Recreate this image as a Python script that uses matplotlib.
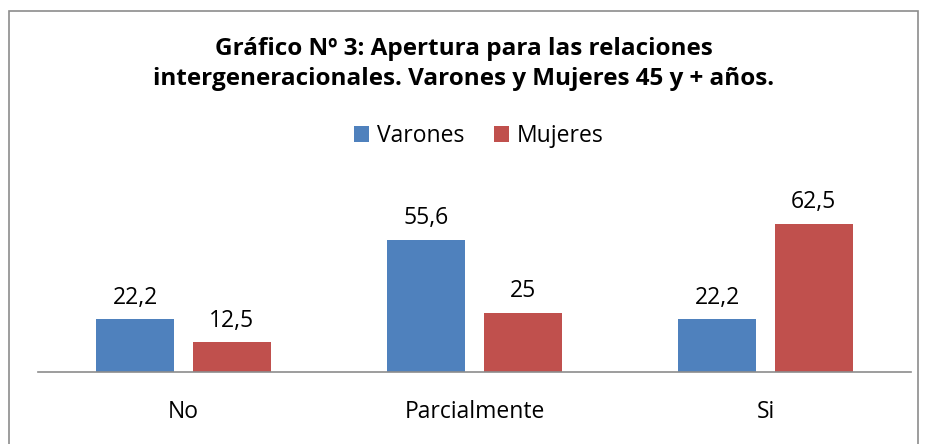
import numpy as np
import matplotlib.pyplot as plt
from matplotlib.patches import Rectangle

plt.rcParams['font.family'] = ['Open Sans', 'DejaVu Sans']

# Datos del gráfico
categorias = ['No', 'Parcialmente', 'Si']
varones = [22.2, 55.6, 22.2]
mujeres = [12.5, 25, 62.5]
etiquetas_varones = ['22,2', '55,6', '22,2']
etiquetas_mujeres = ['12,5', '25', '62,5']

azul = '#4F81BD'
rojo = '#C0504D'

fig = plt.figure(figsize=(9.28, 4.44), dpi=100)
# marco del gráfico
fig.patches.append(Rectangle((9 / 928, -0.05), 909 / 928, 1 - 11 / 444 + 0.05,
                             transform=fig.transFigure, fill=False,
                             edgecolor='#8C8C8C', linewidth=1.2))

ax = fig.add_axes([38 / 928, 72 / 444, 873 / 928, 166 / 444])
x = np.arange(len(categorias))
w = 0.268
off = 0.166
b1 = ax.bar(x - off, varones, w, color=azul, label='Varones')
b2 = ax.bar(x + off, mujeres, w, color=rojo, label='Mujeres')

for rect, txt in zip(b1, etiquetas_varones):
    ax.annotate(txt, (rect.get_x() + rect.get_width() / 2, rect.get_height()),
                xytext=(0, 7), textcoords='offset points', ha='center',
                va='bottom', fontsize=16.5)
for rect, txt in zip(b2, etiquetas_mujeres):
    ax.annotate(txt, (rect.get_x() + rect.get_width() / 2, rect.get_height()),
                xytext=(0, 7), textcoords='offset points', ha='center',
                va='bottom', fontsize=16.5)

ax.set_xlim(-0.5, 2.5)
ax.set_ylim(0, 70)
ax.set_xticks(x)
ax.set_xticklabels(categorias, fontsize=16.5)
ax.tick_params(axis='x', length=0, pad=20)
ax.set_yticks([])
for s in ['top', 'right', 'left']:
    ax.spines[s].set_visible(False)
ax.spines['bottom'].set_color('#8C8C8C')
ax.spines['bottom'].set_linewidth(1.2)

fig.text(0.5, 1 - 64 / 444, 'Gráfico Nº 3: Apertura para las relaciones\n'
         'intergeneracionales. Varones y Mujeres 45 y + años.',
         ha='center', va='center', fontsize=17.5, fontweight='bold',
         linespacing=1.3)

fig.legend(handles=[b1, b2], loc='center', bbox_to_anchor=(479 / 928, 1 - 136 / 444),
           ncol=2, frameon=False, fontsize=16.5, handlelength=0.65,
           handleheight=0.65, handletextpad=0.35, columnspacing=1.3)

fig.savefig('out.png', dpi=100)
